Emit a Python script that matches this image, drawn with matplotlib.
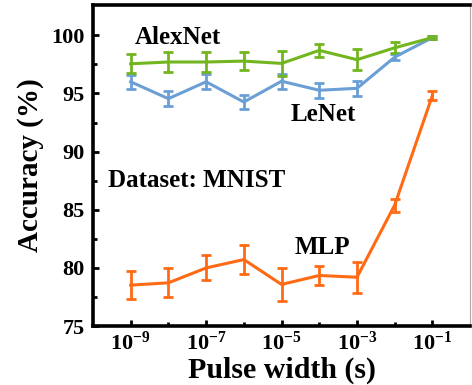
import numpy as np
import matplotlib
matplotlib.use("Agg")
import matplotlib.pyplot as plt
from matplotlib.ticker import FixedLocator, FixedFormatter

plt.rcParams['font.family'] = ['Liberation Serif', 'DejaVu Serif']
plt.rcParams['font.weight'] = 'bold'
plt.rcParams['mathtext.fontset'] = 'custom'
plt.rcParams['mathtext.rm'] = 'Liberation Serif:bold'
plt.rcParams['mathtext.bf'] = 'Liberation Serif:bold'

# pulse widths (s)
pulse = [1e-9, 1e-8, 1e-7, 1e-6, 1e-5, 1e-4, 1e-3, 1e-2, 1e-1]

alexnet = [97.55, 97.7, 97.7, 97.78, 97.58, 98.7, 97.9, 98.92, 99.8]
alexnet_err = [0.83, 0.9, 0.86, 0.8, 1.05, 0.57, 0.9, 0.48, 0.1]

lenet = [96.0, 94.55, 96.0, 94.26, 96.05, 95.27, 95.44, 98.12, 99.8]
lenet_err = [0.61, 0.64, 0.66, 0.64, 0.64, 0.64, 0.63, 0.24, 0.1]

mlp = [78.52, 78.72, 80.0, 80.72, 78.58, 79.35, 79.2, 85.4, 94.82]
mlp_err = [1.2, 1.25, 1.07, 1.24, 1.45, 0.85, 1.35, 0.55, 0.35]

xticks_major = [1e-9, 1e-7, 1e-5, 1e-3, 1e-1]
xticks_minor = [1e-8, 1e-6, 1e-4, 1e-2]
xtick_labels = [r'$\mathbf{10^{-9}}$', r'$\mathbf{10^{-7}}$', r'$\mathbf{10^{-5}}$',
                r'$\mathbf{10^{-3}}$', r'$\mathbf{10^{-1}}$']

green = '#72b51f'
blue = '#6a9fd6'
orange = '#ff6a14'

fig = plt.figure(figsize=(4.72, 3.85), dpi=100)
ax = fig.add_axes([0.197, 0.153, 0.799, 0.834])

kw = dict(linewidth=2.2, elinewidth=2.0, capsize=3.5, capthick=2.0)
ax.errorbar(pulse, lenet, yerr=lenet_err, color=blue, **kw)
ax.errorbar(pulse, alexnet, yerr=alexnet_err, color=green, **kw)
ax.errorbar(pulse, mlp, yerr=mlp_err, color=orange, **kw)

ax.set_xscale('log')
ax.set_xlim(1e-10, 1.0)
ax.set_ylim(75, 102.6)

ax.xaxis.set_major_locator(FixedLocator(xticks_major))
ax.xaxis.set_major_formatter(FixedFormatter(xtick_labels))
ax.xaxis.set_minor_locator(FixedLocator(xticks_minor))
ax.xaxis.set_minor_formatter(FixedFormatter([]))
ax.set_yticks([75, 80, 85, 90, 95, 100])
ax.set_yticks(np.arange(77.5, 102.5, 5), minor=True)

ax.tick_params(which='both', direction='in', width=2, labelsize=16)
ax.tick_params(which='major', length=4)
ax.tick_params(which='minor', length=3)
ax.tick_params(axis='x', pad=4)
ax.tick_params(axis='y', pad=6)
for lab in ax.get_yticklabels():
    lab.set_fontweight('bold')

for side in ['left', 'bottom', 'top']:
    ax.spines[side].set_linewidth(2.6)
ax.spines['right'].set_linewidth(0.8)
ax.spines['right'].set_color('#aaaaaa')

ax.set_xlabel('Pulse width (s)', fontsize=21.5, fontweight='bold', labelpad=1)
ax.set_ylabel('Accuracy (%)', fontsize=21, fontweight='bold', labelpad=5)

tkw = dict(transform=ax.transAxes, fontsize=18, fontweight='bold', va='baseline')
ax.text(0.111, 0.879, 'AlexNet', **tkw)
ax.text(0.523, 0.64, 'LeNet', **tkw)
ax.text(0.04, 0.433, 'Dataset: MNIST', **tkw)
ax.text(0.536, 0.226, 'MLP', **tkw)

fig.savefig('out.png', dpi=100)
